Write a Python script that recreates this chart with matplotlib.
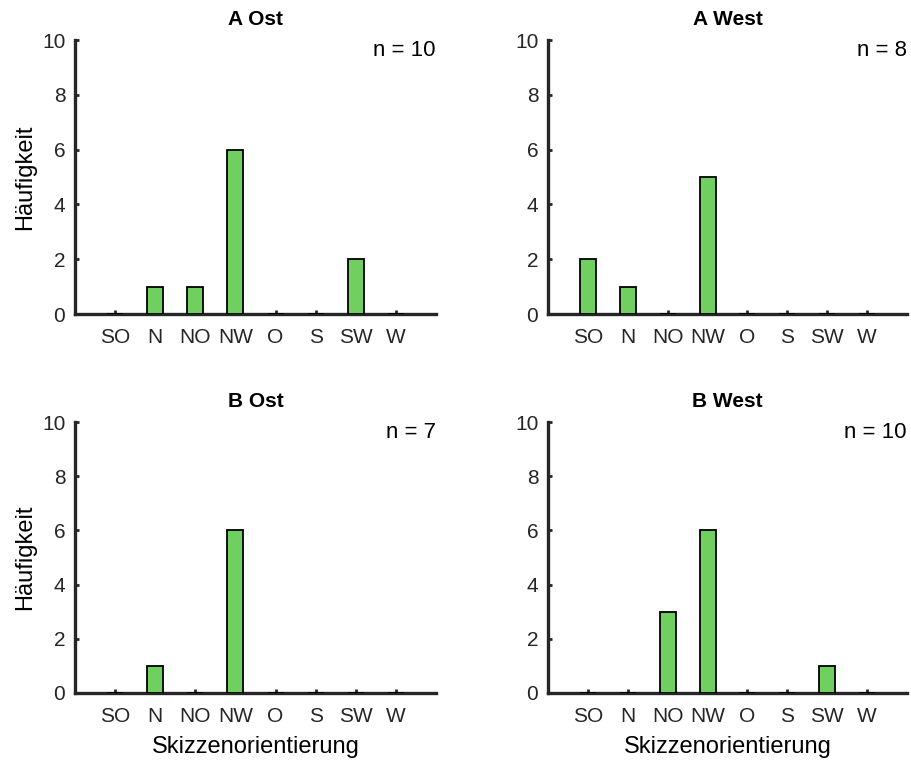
import numpy as np
import matplotlib.pyplot as plt

# data
richtungen = ['SO', 'N', 'NO', 'NW', 'O', 'S', 'SW', 'W']
titel = ['A Ost', 'A West', 'B Ost', 'B West']
a_ost = [0, 1, 1, 6, 0, 0, 2, 0]
a_west = [2, 1, 0, 5, 0, 0, 0, 0]
b_ost = [0, 1, 0, 6, 0, 0, 0, 0]
b_west = [0, 0, 3, 6, 0, 0, 1, 0]
werte = [a_ost, a_west, b_ost, b_west]

plt.rcParams['font.family'] = ['Liberation Sans', 'DejaVu Sans']

W, H = 912, 761
fig = plt.figure(figsize=(W / 100, H / 100), dpi=100)

# axes boxes in pixels: left, right, top(y=10), bottom(y=0)
boxes = [(75, 436, 40, 314), (548, 907, 40, 314),
         (75, 436, 422, 693), (548, 907, 422, 693)]

dunkel = '#262626'
gruen = '#70D05F'
x = np.arange(1, len(richtungen) + 1)

for i in range(4):
    l, r, t, b = boxes[i]
    ax = fig.add_axes([l / W, 1 - b / H, (r - l) / W, (b - t) / H])
    ax.bar(x, werte[i], width=0.4, color=gruen, edgecolor='black', linewidth=1.3, zorder=3)
    ax.set_xlim(0, 9)
    ax.set_ylim(0, 10)
    ax.set_xticks(x)
    ax.set_xticklabels(richtungen)
    ax.set_yticks(range(0, 11, 2))
    for s in ['top', 'right']:
        ax.spines[s].set_visible(False)
    for s in ['left', 'bottom']:
        ax.spines[s].set_linewidth(2.4)
        ax.spines[s].set_color(dunkel)
    ax.tick_params(direction='in', length=3, width=2, color=dunkel,
                   labelsize=15, labelcolor=dunkel, pad=7)
    ax.tick_params(axis='x', pad=10)
    ax.set_title(titel[i], fontsize=15, fontweight='bold', pad=11)
    n = sum(werte[i])
    ax.text(1.0, 1.0, 'n = %d' % n, transform=ax.transAxes, ha='right', va='top',
            fontsize=16, color='black')
    if i % 2 == 0:
        ax.set_ylabel('Häufigkeit', fontsize=17, labelpad=4)
    if i >= 2:
        ax.set_xlabel('Skizzenorientierung', fontsize=17, labelpad=7)

fig.savefig('out.png', dpi=100)
